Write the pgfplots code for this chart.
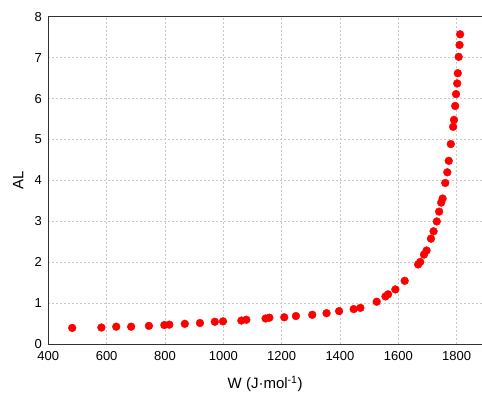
\documentclass[border=0pt]{standalone}
\usepackage{pgfplots}
\pgfplotsset{compat=1.18}
\usepackage{fontspec}
\setmainfont{Liberation Sans}
\definecolor{gridgray}{RGB}{200,200,200}
\definecolor{axgray}{RGB}{50,50,50}
\begin{document}
\begin{tikzpicture}
\begin{axis}[
  at={(0,0)}, anchor=south west,
  scale only axis,
  width=433.7pt, height=327.6pt,
  xmin=400, xmax=1887, ymin=0, ymax=8,
  xtick={400,600,...,1800},
  ytick={0,1,...,8},
  axis x line=box, axis y line=left,
  axis line style={-, axgray, line width=1.3pt},
  major tick length=0pt,
  grid=major,
  major grid style={gridgray, dash pattern=on 2pt off 2pt, line width=0.6pt},
  tick label style={font=\fontsize{13}{14}\selectfont},
  /pgf/number format/assume math mode=true,
  /pgf/number format/1000 sep={},
  xticklabel style={yshift=-4pt},
  yticklabel style={xshift=-3pt},
  xlabel={W (J·mol\textsuperscript{-1})},
  ylabel={AL},
  label style={font=\fontsize{15}{16}\selectfont},
  xlabel style={at={(axis description cs:0.5,0)}, anchor=center, yshift=-40pt},
  ylabel style={at={(axis description cs:0,0.5)}, anchor=center, yshift=30pt},
  clip=false,
]
\addplot[only marks, mark=*, mark size=3.9pt, color=red, mark options={fill=red, draw=red}] coordinates {
(482,0.40) (582,0.41) (633,0.43) (684,0.43) (745,0.45) (798,0.47) (815,0.48)
(868,0.50) (920,0.52) (971,0.55) (999,0.56) (1062,0.58) (1079,0.60)
(1145,0.63) (1158,0.65) (1209,0.66) (1249,0.69) (1305,0.72) (1354,0.76)
(1397,0.81) (1447,0.86) (1470,0.89) (1526,1.04) (1556,1.17) (1565,1.22)
(1590,1.34) (1622,1.55) (1668,1.95) (1675,2.01) (1688,2.19) (1697,2.29)
(1712,2.58) (1721,2.76) (1732,3.00) (1740,3.24) (1747,3.46) (1752,3.56)
(1761,3.94) (1768,4.20) (1773,4.48) (1780,4.89) (1788,5.31) (1791,5.48)
(1795,5.82) (1798,6.11) (1802,6.37) (1804,6.62) (1807,7.02) (1810,7.31)
(1812,7.57)
};
\end{axis}
\pgfresetboundingbox
\path (-48.3pt,-51.7pt) rectangle (433.7pt,344.3pt);
\end{tikzpicture}
\end{document}
